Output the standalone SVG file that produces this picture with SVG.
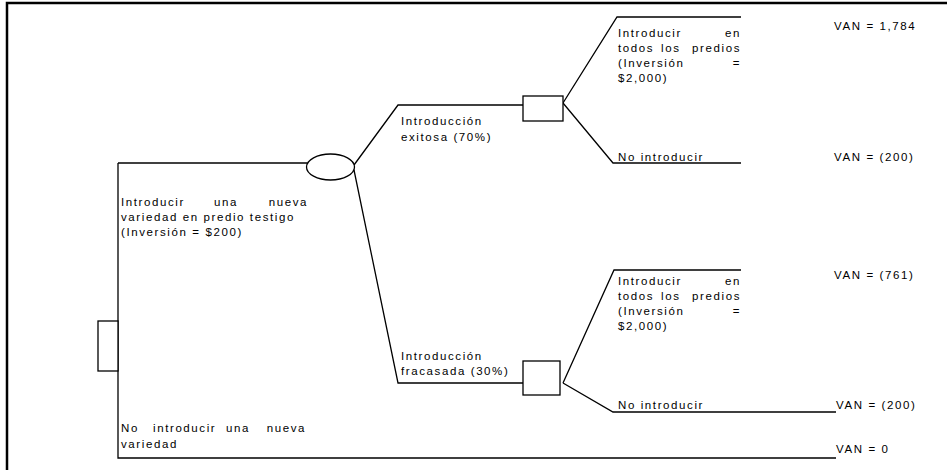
<svg xmlns="http://www.w3.org/2000/svg" width="947" height="470" viewBox="0 0 947 470">
<style>
.ln{fill:none;stroke:#000;stroke-width:1.3}
.nd{fill:#fff;stroke:#000;stroke-width:1.3}
.t{font-family:"Liberation Sans",Arial,sans-serif;font-size:11.5px;letter-spacing:1.6px;fill:#000}
.e{text-anchor:end}
</style>
<rect width="947" height="470" fill="#fff"/>
<path d="M7,470 V3 H947" fill="none" stroke="#000" stroke-width="2.5"/>
<g id="connectors" class="ln">
<path d="M118,163 V458 H836"/>
<path d="M118,163 H307"/>
<path d="M354,165 L398,105 H523"/>
<path d="M563,103 L617,17 H741"/>
<path d="M563,103 L613,163 H741"/>
<path d="M354,170 L398,383 H523"/>
<path d="M563,383 L614,270 H741"/>
<path d="M563,383 L613,412 H836"/>
</g>
<g id="root-decision"><rect class="nd" x="98" y="321" width="20" height="50"/></g>
<g id="chance-node"><ellipse class="nd" cx="330.5" cy="167" rx="24" ry="13"/></g>
<g id="decision-success"><rect class="nd" x="523" y="96" width="40" height="25"/></g>
<g id="decision-failure"><rect class="nd" x="523" y="361" width="37" height="34"/></g>
<g id="labels" class="t">
<text x="121" y="206">Introducir</text><text x="214" y="206">una</text><text class="e" x="308" y="206">nueva</text>
<text x="121" y="221">variedad en predio testigo</text>
<text x="121" y="236">(Inversión = $200)</text>
<text x="121" y="432">No</text><text x="153" y="432">introducir</text><text x="226" y="432">una</text><text class="e" x="306" y="432">nueva</text>
<text x="121" y="448">variedad</text>
<text x="401" y="125">Introducción</text>
<text x="401" y="141">exitosa (70%)</text>
<text x="401" y="360">Introducción</text>
<text x="401" y="375">fracasada (30%)</text>
<text x="618" y="37">Introducir</text><text class="e" x="741" y="37">en</text>
<text x="618" y="52">todos</text><text x="661" y="52">los</text><text class="e" x="741" y="52">predios</text>
<text x="618" y="67">(Inversión</text><text class="e" x="741" y="67">=</text>
<text x="618" y="82">$2,000)</text>
<text x="618" y="161">No introducir</text>
<text x="618" y="285">Introducir</text><text class="e" x="741" y="285">en</text>
<text x="618" y="300">todos</text><text x="661" y="300">los</text><text class="e" x="741" y="300">predios</text>
<text x="618" y="315">(Inversión</text><text class="e" x="741" y="315">=</text>
<text x="618" y="330">$2,000)</text>
<text x="618" y="409">No introducir</text>
<text x="834" y="30">VAN = 1,784</text>
<text x="834" y="161">VAN = (200)</text>
<text x="834" y="279">VAN = (761)</text>
<text x="836" y="409">VAN = (200)</text>
<text x="836" y="453">VAN = 0</text>
</g>
</svg>
